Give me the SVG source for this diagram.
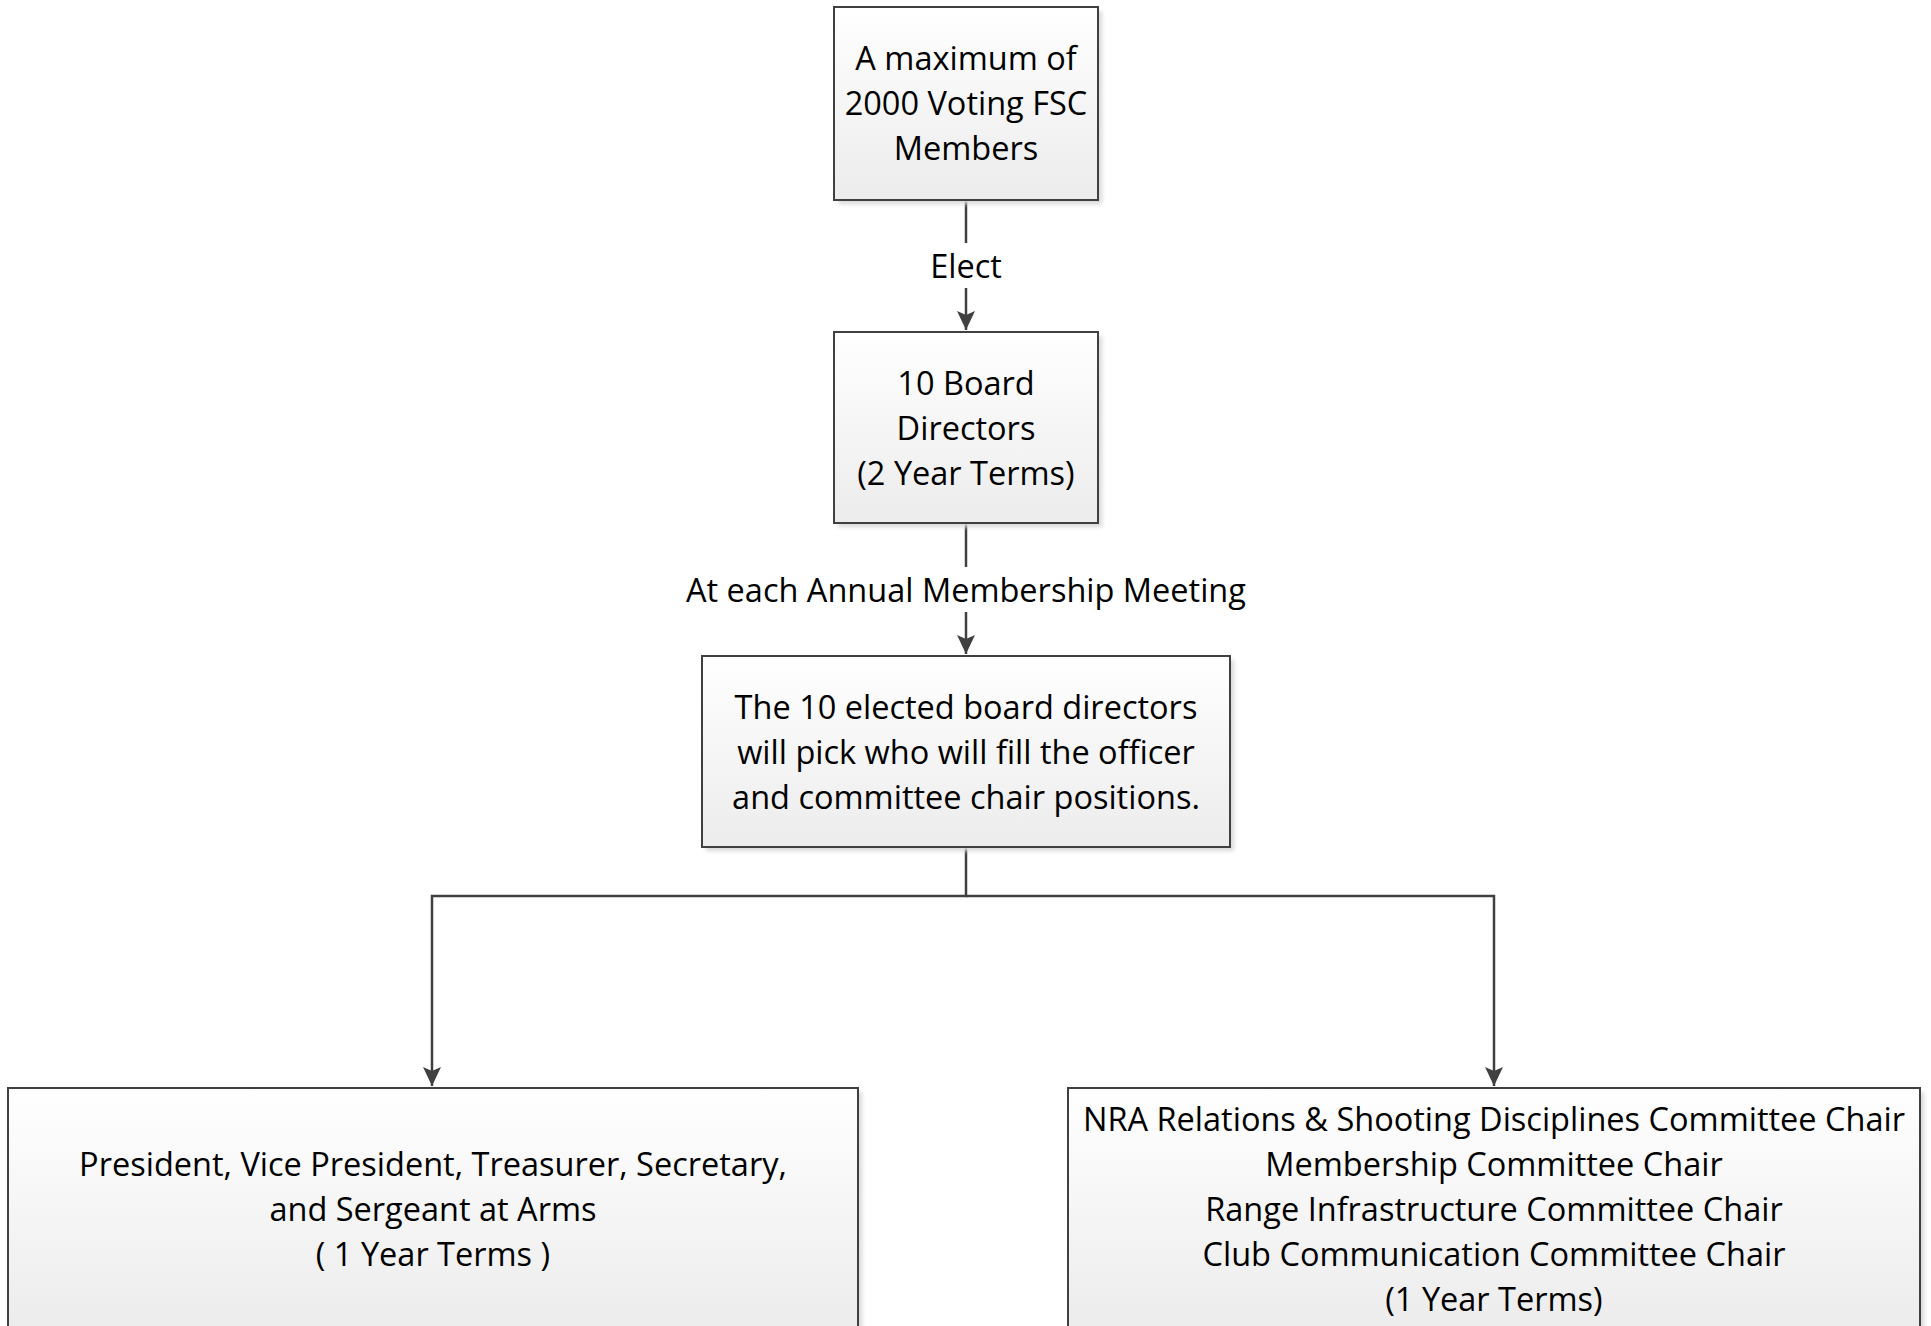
<svg xmlns="http://www.w3.org/2000/svg" width="1931" height="1326" viewBox="0 0 1931 1326">
  <style>
    .box { fill: url(#g); stroke: #404040; stroke-width: 2; }
    .shadow { fill: #d9d9d9; filter: url(#blur); }
    .t { font-family: "Open Sans", "Noto Sans", sans-serif; font-size: 32.5px; fill: #000; text-anchor: middle; }
    .conn { fill: none; stroke: #404040; stroke-width: 2.5; }
    .lbl-bg { fill: #fff; }
  </style>
  <defs>
    <linearGradient id="g" x1="0" y1="0" x2="0" y2="1">
      <stop offset="0" stop-color="#ffffff"/>
      <stop offset="1" stop-color="#ececec"/>
    </linearGradient>
    <filter id="blur" x="-5%" y="-5%" width="110%" height="110%">
      <feGaussianBlur stdDeviation="2"/>
    </filter>
    <marker id="arr" markerUnits="userSpaceOnUse" markerWidth="20" markerHeight="20" viewBox="0 0 20 20" refX="19" refY="10" orient="auto">
      <path d="M0,1 L19,10 L0,19 L4,10 Z" fill="#404040"/>
    </marker>
  </defs>
  <rect width="1931" height="1326" fill="#fff"/>

  <g id="connectors">
    <path class="conn" d="M966,200 V330" marker-end="url(#arr)"/>
    <rect class="lbl-bg" x="920" y="243" width="92" height="45"/>
    <text class="t" x="966" y="278">Elect</text>
    <path class="conn" d="M966,523 V654" marker-end="url(#arr)"/>
    <rect class="lbl-bg" x="680" y="567" width="572" height="45"/>
    <text class="t" x="966" y="602">At each Annual Membership Meeting</text>
    <path class="conn" d="M966,847 V896 H432 V1086" marker-end="url(#arr)"/>
    <path class="conn" d="M966,896 H1494 V1086" marker-end="url(#arr)"/>
  </g>

  <g id="node-members">
    <rect class="shadow" x="838" y="11" width="264" height="193"/>
    <rect class="box" x="834" y="7" width="264" height="193"/>
    <text class="t" x="966" y="70">A maximum of</text>
    <text class="t" x="966" y="115">2000 Voting FSC</text>
    <text class="t" x="966" y="160">Members</text>
  </g>

  <g id="node-directors">
    <rect class="shadow" x="838" y="336" width="264" height="191"/>
    <rect class="box" x="834" y="332" width="264" height="191"/>
    <text class="t" x="966" y="395">10 Board</text>
    <text class="t" x="966" y="440">Directors</text>
    <text class="t" x="966" y="485">(2 Year Terms)</text>
  </g>

  <g id="node-pick">
    <rect class="shadow" x="706" y="660" width="528" height="191"/>
    <rect class="box" x="702" y="656" width="528" height="191"/>
    <text class="t" x="966" y="718.5">The 10 elected board directors</text>
    <text class="t" x="966" y="763.5">will pick who will fill the officer</text>
    <text class="t" x="966" y="808.5">and committee chair positions.</text>
  </g>

  <g id="node-officers">
    <rect class="shadow" x="12" y="1092" width="850" height="242"/>
    <rect class="box" x="8" y="1088" width="850" height="242"/>
    <text class="t" x="433" y="1176">President, Vice President, Treasurer, Secretary,</text>
    <text class="t" x="433" y="1221">and Sergeant at Arms</text>
    <text class="t" x="433" y="1266">( 1 Year Terms )</text>
  </g>

  <g id="node-chairs">
    <rect class="shadow" x="1072" y="1092" width="852" height="242"/>
    <rect class="box" x="1068" y="1088" width="852" height="242"/>
    <text class="t" x="1494" y="1131">NRA Relations &amp; Shooting Disciplines Committee Chair</text>
    <text class="t" x="1494" y="1176">Membership Committee Chair</text>
    <text class="t" x="1494" y="1221">Range Infrastructure Committee Chair</text>
    <text class="t" x="1494" y="1266">Club Communication Committee Chair</text>
    <text class="t" x="1494" y="1311">(1 Year Terms)</text>
  </g>
</svg>
